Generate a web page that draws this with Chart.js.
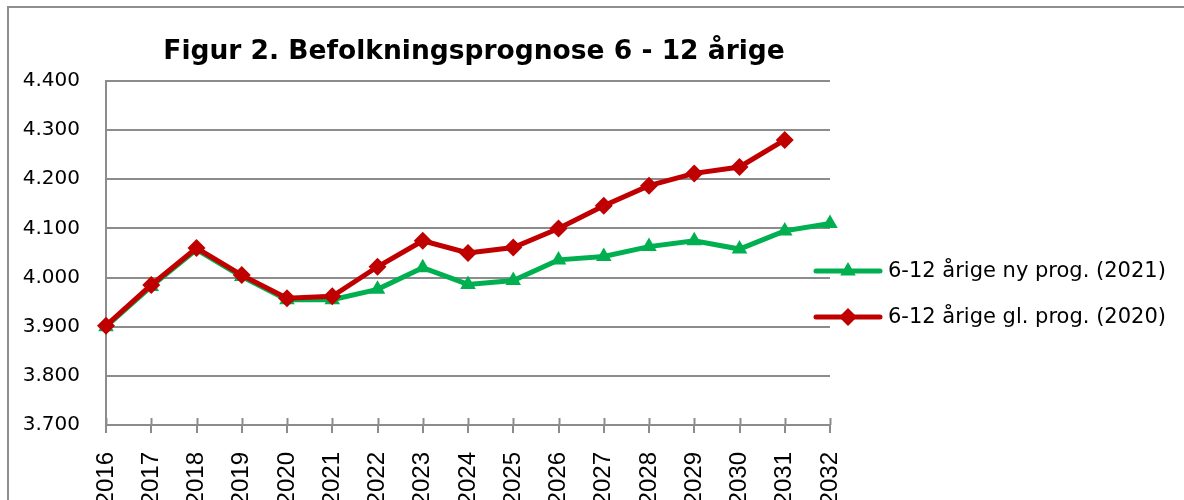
<!DOCTYPE html>
<html>
<head>
<meta charset="utf-8">
<script src="https://cdn.jsdelivr.net/npm/chart.js@4"></script>
<style>
  html, body { margin: 0; padding: 0; background: #fff; overflow: hidden; }
  #wrap { width: 1184px; height: 500px; position: relative; }
</style>
</head>
<body>
<div id="wrap"><canvas id="chart" width="1184" height="500"></canvas></div>
<script>
// data
const years = ['2016', '2017', '2018', '2019', '2020', '2021', '2022', '2023', '2024',
               '2025', '2026', '2027', '2028', '2029', '2030', '2031', '2032'];
const nyProg = [3900, 3982, 4057, 4002, 3955, 3955, 3976, 4020, 3986,
                3994, 4036, 4043, 4063, 4075, 4058, 4095, 4110];
const glProg = [3902, 3985, 4060, 4005, 3958, 3962, 4022, 4075, 4050,
                4061, 4100, 4146, 4187, 4212, 4225, 4280, null];
const seriesNames = ['6-12 årige ny prog. (2021)', '6-12 årige gl. prog. (2020)'];
const titleText = 'Figur 2. Befolkningsprognose 6 - 12 årige';

const GREEN = '#00B050';
const RED = '#C00000';
const GRID = '#8c8c8c';
const FONT = '"DejaVu Sans", sans-serif';
const YEAR_FONT = '"Liberation Sans", Arial, sans-serif';

// thousands with a dot, like 4.400
function fmt(v) {
  const k = Math.floor(v / 1000);
  return k + '.' + String(v % 1000).padStart(3, '0');
}

// frame, title, inner half of x ticks and the legend
const decorations = {
  id: 'decorations',
  beforeDraw(chart) {
    const ctx = chart.ctx;
    ctx.save();
    ctx.fillStyle = '#fff';
    ctx.fillRect(0, 0, chart.width, chart.height);
    ctx.strokeStyle = '#8e8e8e';
    ctx.lineWidth = 2;
    ctx.strokeRect(8, 7, 2000, 2000);
    ctx.restore();
  },
  afterDraw(chart) {
    const ctx = chart.ctx;
    const area = chart.chartArea;
    const x = chart.scales.x;
    ctx.save();

    // tick marks also reach into the plot
    ctx.strokeStyle = GRID;
    ctx.lineWidth = 2;
    years.forEach((y, i) => {
      const px = Math.round(x.getPixelForTick(i)) + 0.5;
      ctx.beginPath();
      ctx.moveTo(px, area.bottom - 7);
      ctx.lineTo(px, area.bottom);
      ctx.stroke();
    });

    // title
    ctx.fillStyle = '#000';
    ctx.font = 'bold 26.5px ' + FONT;
    ctx.textAlign = 'center';
    ctx.textBaseline = 'alphabetic';
    ctx.fillText(titleText, (area.left + area.right) / 2 + 6, 59);

    // legend
    const items = [
      { name: seriesNames[0], color: GREEN, style: 'triangle', y: 271 },
      { name: seriesNames[1], color: RED, style: 'rectRot', y: 317 }
    ];
    ctx.font = '21px ' + FONT;
    ctx.textAlign = 'left';
    ctx.textBaseline = 'middle';
    items.forEach(it => {
      const x0 = area.right - 14;
      ctx.strokeStyle = it.color;
      ctx.lineWidth = 5;
      ctx.lineCap = 'round';
      ctx.beginPath();
      ctx.moveTo(x0, it.y);
      ctx.lineTo(x0 + 64, it.y);
      ctx.stroke();
      ctx.fillStyle = it.color;
      Chart.helpers.drawPoint(ctx, { pointStyle: it.style, radius: 9, rotation: 0, borderWidth: 0 }, x0 + 32, it.y);
      ctx.fillStyle = '#000';
      ctx.fillText(it.name, x0 + 72, it.y + 1);
    });
    ctx.restore();
  }
};

new Chart(document.getElementById('chart'), {
  type: 'line',
  data: {
    labels: years,
    datasets: [
      {
        label: seriesNames[0],
        data: nyProg,
        borderColor: GREEN,
        backgroundColor: GREEN,
        borderWidth: 5,
        pointStyle: 'triangle',
        pointRadius: 9,
        pointBorderWidth: 0,
        tension: 0,
        order: 2
      },
      {
        label: seriesNames[1],
        data: glProg,
        borderColor: RED,
        backgroundColor: RED,
        borderWidth: 5,
        pointStyle: 'rectRot',
        pointRadius: 9,
        pointBorderWidth: 0,
        tension: 0,
        order: 1
      }
    ]
  },
  options: {
    responsive: false,
    animation: false,
    layout: { padding: { top: 81, right: 354, left: 0, bottom: 0 } },
    plugins: {
      legend: { display: false },
      title: { display: false },
      tooltip: { enabled: false }
    },
    scales: {
      x: {
        offset: false,
        grid: { drawOnChartArea: false, tickLength: 8, color: GRID, lineWidth: 2 },
        border: { color: GRID, width: 2 },
        ticks: {
          autoSkip: false,
          minRotation: 90,
          maxRotation: 90,
          padding: 19,
          color: '#000',
          font: { family: YEAR_FONT, size: 24 }
        },
        afterFit(scale) { scale.height = 75; }
      },
      y: {
        min: 3700,
        max: 4400,
        grid: { drawTicks: false, color: GRID, lineWidth: 2 },
        border: { color: GRID, width: 2 },
        ticks: {
          stepSize: 100,
          padding: 26,
          color: '#000',
          font: { family: FONT, size: 20 },
          callback: v => fmt(v)
        },
        afterFit(scale) { scale.width = 106; }
      }
    }
  },
  plugins: [decorations]
});
</script>
</body>
</html>
